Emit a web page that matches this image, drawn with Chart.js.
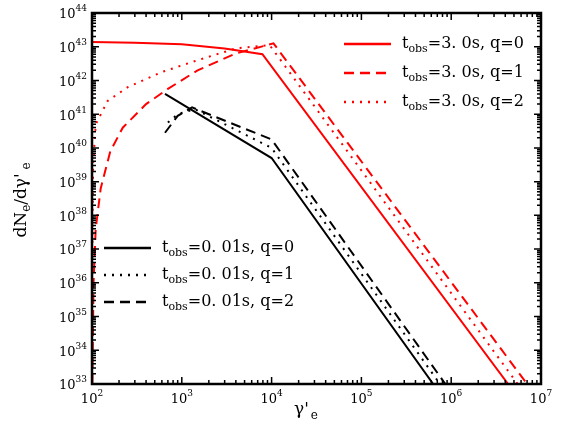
<!DOCTYPE html>
<html><head><meta charset="utf-8">
<script src="https://cdn.jsdelivr.net/npm/chart.js@4/dist/chart.umd.min.js"></script>
<style>html,body{margin:0;background:#fff}#c{display:block}</style>
</head><body>
<canvas id="c" width="572" height="428"></canvas>
<script>
// series as [gamma'_e, dN/dgamma exponent]
const redQ0 = [[100, 43.14], [300, 43.12], [1000, 43.07], [3000, 42.95], [7900, 42.78], [4.3e6, 33]];
const redQ1 = [[101, 33], [104, 36], [110, 37.6], [125, 38.8], [160, 39.9], [220, 40.6], [400, 41.3], [700, 41.75], [1500, 42.3], [4000, 42.8], [10500, 43.1], [7e6, 33]];
const redQ2 = [[100, 36], [103, 39.5], [110, 40.7], [150, 41.4], [250, 41.8], [600, 42.25], [1500, 42.6], [4000, 42.95], [9500, 43.05], [5.5e6, 33]];
const blkQ0 = [[650, 41.6], [10000, 39.7], [6.3e5, 33]];
const blkQ1 = [[700, 40.75], [900, 41.0], [1400, 41.15], [10000, 40.0], [7.5e5, 33]];
const blkQ2 = [[650, 40.45], [900, 40.95], [1300, 41.2], [10000, 40.25], [8.6e5, 33]];
const xDecades = [2, 3, 4, 5, 6, 7];
const yDecades = [33, 34, 35, 36, 37, 38, 39, 40, 41, 42, 43, 44];
const redLabels = ['3. 0s, q=0', '3. 0s, q=1', '3. 0s, q=2'];
const blkLabels = ['0. 01s, q=0', '0. 01s, q=1', '0. 01s, q=2'];
const redDashes = [[], [10, 6], [2, 6]];
const blkDashes = [[], [2, 6], [10, 6]];

const pts = a => a.map(p => ({x: p[0], y: Math.pow(10, p[1])}));
const ds = (d, col, dash) => ({data: pts(d), borderColor: col, borderWidth: 2, borderDash: dash, pointRadius: 0, fill: false, tension: 0});

function supText(ctx, base, sup, x, y, align) {
  ctx.font = '13px "DejaVu Serif"';
  const bw = ctx.measureText(base).width;
  ctx.font = '9px "DejaVu Serif"';
  const sw = ctx.measureText(sup).width;
  let x0 = align === 'right' ? x - bw - sw : x - (bw + sw) / 2;
  ctx.textAlign = 'left'; ctx.textBaseline = 'middle';
  ctx.font = '13px "DejaVu Serif"'; ctx.fillText(base, x0, y);
  ctx.font = '9px "DejaVu Serif"'; ctx.fillText(sup, x0 + bw, y - 6);
}

function legendEntry(ctx, x, y, col, dash, val) {
  ctx.save();
  ctx.strokeStyle = col; ctx.lineWidth = 2.5; ctx.setLineDash(dash);
  ctx.beginPath(); ctx.moveTo(x, y); ctx.lineTo(x + 47, y); ctx.stroke();
  ctx.restore();
  ctx.fillStyle = '#000'; ctx.textBaseline = 'middle'; ctx.textAlign = 'left';
  let tx = x + 58;
  ctx.font = '16px "DejaVu Serif"'; ctx.fillText('t', tx, y);
  tx += ctx.measureText('t').width;
  ctx.font = '11px "DejaVu Serif"'; ctx.fillText('obs', tx, y + 5);
  tx += ctx.measureText('obs').width;
  ctx.font = '16px "DejaVu Serif"'; ctx.fillText('=' + val, tx, y);
}

const decor = {
  id: 'decor',
  afterDraw(chart) {
    const {ctx, chartArea: a, scales: {x, y}} = chart;
    ctx.save();
    ctx.strokeStyle = '#000'; ctx.fillStyle = '#000'; ctx.lineWidth = 1.5;
    for (let d = 2; d < 7; d++) for (let m = 1; m < 10; m++) {
      const px = x.getPixelForValue(m * Math.pow(10, d));
      const len = m === 1 ? 7 : 4;
      ctx.beginPath(); ctx.moveTo(px, a.bottom); ctx.lineTo(px, a.bottom - len);
      ctx.moveTo(px, a.top); ctx.lineTo(px, a.top + len); ctx.stroke();
    }
    for (let d = 33; d < 44; d++) for (let m = 1; m < 10; m++) {
      const py = y.getPixelForValue(m * Math.pow(10, d));
      const len = m === 1 ? 7 : 4;
      ctx.beginPath(); ctx.moveTo(a.left, py); ctx.lineTo(a.left + len, py);
      ctx.moveTo(a.right, py); ctx.lineTo(a.right - len, py); ctx.stroke();
    }
    ctx.lineWidth = 2.5;
    ctx.strokeRect(a.left, a.top, a.right - a.left, a.bottom - a.top);
    xDecades.forEach(d => supText(ctx, '10', String(d), x.getPixelForValue(Math.pow(10, d)), a.bottom + 16, 'center'));
    yDecades.forEach(d => supText(ctx, '10', String(d), a.left - 5, y.getPixelForValue(Math.pow(10, d)) + 2, 'right'));
    ctx.textBaseline = 'middle'; ctx.textAlign = 'left';
    let tx = 294;
    ctx.font = '17px "DejaVu Serif"'; ctx.fillText("γ'", tx, 410);
    tx += ctx.measureText("γ'").width;
    ctx.font = '12px "DejaVu Serif"'; ctx.fillText('e', tx + 2, 416);
    ctx.translate(22, 200); ctx.rotate(-Math.PI / 2);
    const parts = [['dN', 17, 0], ['e', 12, 5], ["/dγ'", 17, 0], [' e', 12, 5]];
    let w = 0;
    parts.forEach(p => { ctx.font = p[1] + 'px "DejaVu Serif"'; w += ctx.measureText(p[0]).width; });
    let sx = -w / 2;
    parts.forEach(p => { ctx.font = p[1] + 'px "DejaVu Serif"'; ctx.fillText(p[0], sx, p[2]); sx += ctx.measureText(p[0]).width; });
    ctx.restore();
    ctx.save();
    redLabels.forEach((l, i) => legendEntry(ctx, 344, 44 + i * 29, '#ff0000', redDashes[i], l));
    blkLabels.forEach((l, i) => legendEntry(ctx, 104, 248 + i * 27, '#000', blkDashes[i], l));
    ctx.restore();
  }
};

new Chart(document.getElementById('c'), {
  type: 'line',
  data: {datasets: [
    ds(redQ0, '#ff0000', redDashes[0]), ds(redQ1, '#ff0000', redDashes[1]), ds(redQ2, '#ff0000', redDashes[2]),
    ds(blkQ0, '#000', blkDashes[0]), ds(blkQ1, '#000', blkDashes[1]), ds(blkQ2, '#000', blkDashes[2])
  ]},
  options: {
    responsive: false, animation: false,
    layout: {padding: {left: 92, top: 13, right: 31, bottom: 44}},
    plugins: {legend: {display: false}, tooltip: {enabled: false}},
    scales: {
      x: {type: 'logarithmic', min: 1e2, max: 1e7, display: false},
      y: {type: 'logarithmic', min: 1e33, max: 1e44, display: false}
    }
  },
  plugins: [decor]
});
</script>
</body></html>
